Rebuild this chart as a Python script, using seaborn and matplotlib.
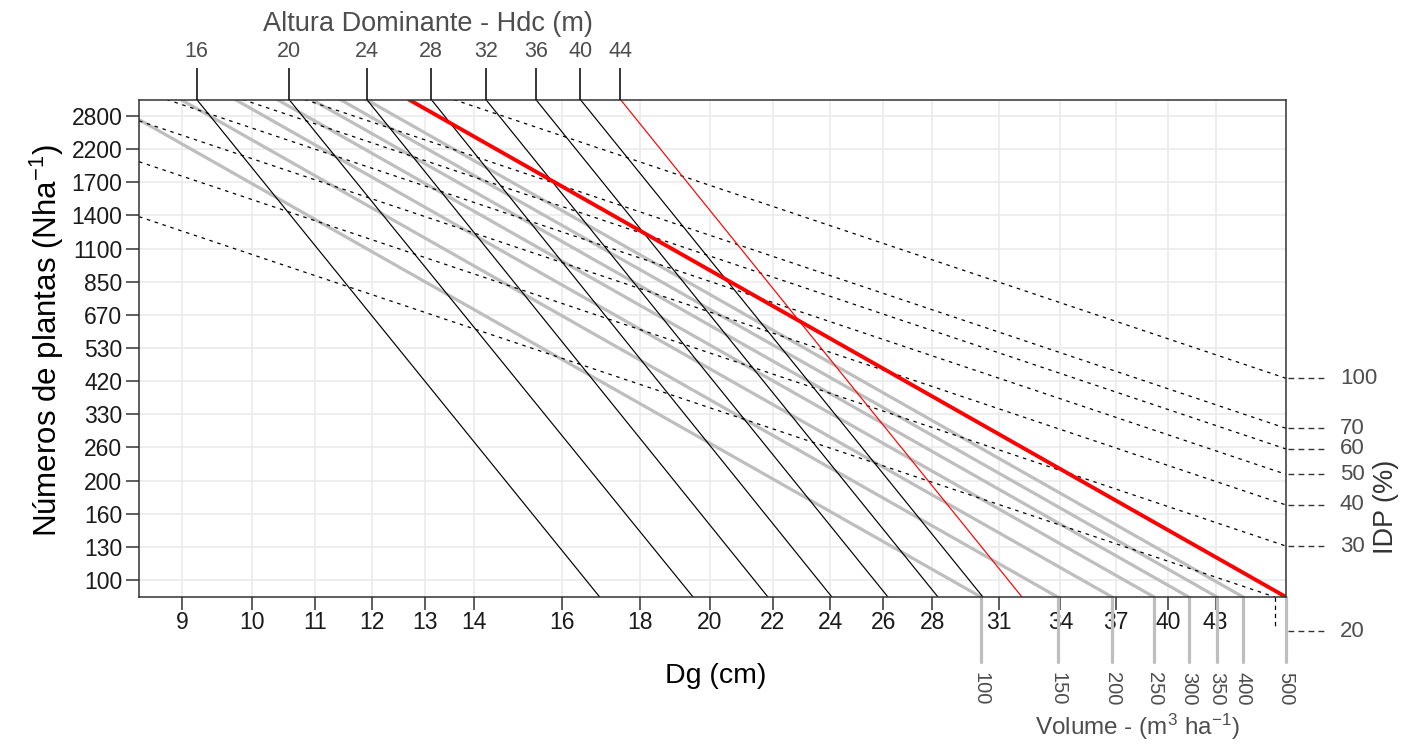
import numpy as np
import pandas as pd
import matplotlib
matplotlib.use("Agg")
import matplotlib.pyplot as plt
import matplotlib.transforms as mtransforms
from matplotlib.ticker import FixedLocator, FixedFormatter, NullLocator
import seaborn as sns

# ---------------- data ----------------
DG_MIN, DG_MAX = 8.43, 47.84          # Dg axis limits (cm)
N_MIN, N_MAX = 88.5, 3153             # N axis limits (plants/ha)

dg_ticks = [9, 10, 11, 12, 13, 14, 16, 18, 20, 22, 24, 26, 28, 31, 34, 37, 40, 43]
n_tick_labels = [100, 130, 160, 200, 260, 330, 420, 530, 670, 850, 1100, 1400, 1700, 2200, 2800]
n_tick_values = [100.0, 126.9, 161.0, 204.2, 259.1, 328.7, 417.1, 529.2, 671.3,
                 851.7, 1080.5, 1370.9, 1739.2, 2206.5, 2800.0]

# dominant height lines (Hdc, m): Dg where each line meets top / bottom of the panel
hdc_labels = [16, 20, 24, 28, 32, 36, 40, 44]
hdc_dg_top = [9.20, 10.58, 11.90, 13.12, 14.25, 15.37, 16.44, 17.47]
hdc_dg_bottom = [16.93, 19.50, 21.84, 24.06, 26.19, 28.25, 30.24, 32.08]

# volume lines (m3/ha)
vol_labels = [100, 150, 200, 250, 300, 350, 400, 500]
vol_dg_top = [7.99, 8.98, 9.75, 10.39, 10.95, 11.43, 11.89, 12.68]
vol_dg_bottom = [30.15, 33.86, 36.77, 39.18, 41.29, 43.10, 44.84, 47.84]

# relative density index lines (IDP, %)
idp_labels = [20, 30, 40, 50, 60, 70, 100]
idp_dg_start = [8.43, 8.43, 8.43, 8.79, 9.86, 10.83, 13.57]
idp_n_start = [1359, 2017, 2705, 3153, 3153, 3153, 3153]
idp_dg_end = [47.05, 47.84, 47.84, 47.84, 47.84, 47.84, 47.84]
idp_n_end = [88.5, 127.6, 171.4, 213.6, 256.2, 297.3, 425.7]
idp_label_n = [69.3, 127.6, 171.4, 213.6, 256.2, 297.3, 425.7]

# ---------------- styling ----------------
sns.set_theme(style="white")
plt.rcParams["font.family"] = ["Liberation Sans", "DejaVu Sans"]
plt.rcParams["mathtext.fontset"] = "custom"
plt.rcParams["mathtext.rm"] = "Liberation Sans"
plt.rcParams["mathtext.it"] = "Liberation Sans:italic"
plt.rcParams["mathtext.default"] = "regular"


def segments(prefix, labels, d0, n0, d1, n1):
    rows = []
    for lab, a, b, c, d in zip(labels, d0, n0, d1, n1):
        rows.append({"line": f"{prefix}{lab}", "Dg": a, "N": b})
        rows.append({"line": f"{prefix}{lab}", "Dg": c, "N": d})
    return pd.DataFrame(rows)


fig = plt.figure(figsize=(14.03, 7.44), dpi=100)
ax = fig.add_axes([139 / 1403, 1 - 597 / 744, 1147 / 1403, 497.5 / 744])

# volume lines (gray) except the 500 one, which is red and thick
vol_df = segments("v", vol_labels, vol_dg_top, [N_MAX] * len(vol_labels),
                  vol_dg_bottom, [N_MIN] * len(vol_labels))
sns.lineplot(data=vol_df[vol_df["line"] != "v500"], x="Dg", y="N", units="line",
             estimator=None, sort=False, color="#BEBEBE", lw=2.3, ax=ax,
             legend=False, zorder=3)

# IDP lines (dashed)
idp_df = segments("i", idp_labels, idp_dg_start, idp_n_start, idp_dg_end, idp_n_end)
sns.lineplot(data=idp_df, x="Dg", y="N", units="line", estimator=None, sort=False,
             color="black", lw=0.9, linestyle=(0, (2.8, 3.8)), ax=ax,
             legend=False, zorder=4)

# Hdc lines (black), 44 m in red
hdc_df = segments("h", hdc_labels, hdc_dg_top, [N_MAX] * len(hdc_labels),
                  hdc_dg_bottom, [N_MIN] * len(hdc_labels))
sns.lineplot(data=hdc_df[hdc_df["line"] != "h44"], x="Dg", y="N", units="line",
             estimator=None, sort=False, color="black", lw=0.85, ax=ax,
             legend=False, zorder=5)
sns.lineplot(data=hdc_df[hdc_df["line"] == "h44"], x="Dg", y="N", units="line",
             estimator=None, sort=False, color="#FF0000", lw=0.85, ax=ax,
             legend=False, zorder=6)
sns.lineplot(data=vol_df[vol_df["line"] == "v500"], x="Dg", y="N", units="line",
             estimator=None, sort=False, color="#FF0000", lw=2.8, ax=ax,
             legend=False, zorder=6)

# ---------------- axes ----------------
ax.set_xscale("log")
ax.set_yscale("log")
ax.set_xlim(DG_MIN, DG_MAX)
ax.set_ylim(N_MIN, N_MAX)
ax.xaxis.set_major_locator(FixedLocator(dg_ticks))
ax.xaxis.set_major_formatter(FixedFormatter([str(v) for v in dg_ticks]))
ax.yaxis.set_major_locator(FixedLocator(n_tick_values))
ax.yaxis.set_major_formatter(FixedFormatter([str(v) for v in n_tick_labels]))
ax.xaxis.set_minor_locator(NullLocator())
ax.yaxis.set_minor_locator(NullLocator())
ax.set_xlabel("")
ax.set_ylabel("")
ax.grid(True, which="major", color="#EBEBEB", lw=1.2)
ax.set_axisbelow(True)
ax.tick_params(axis="x", which="major", bottom=True, length=9.5, width=1.1,
               color="#333333", labelsize=16.5, labelcolor="#1a1a1a", pad=0.5)
ax.tick_params(axis="y", which="major", left=True, length=9.5, width=1.1,
               color="#333333", labelsize=16.5, labelcolor="#1a1a1a", pad=2.5)
for s in ax.spines.values():
    s.set_color("#333333")
    s.set_linewidth(1.1)
    s.set_zorder(10)

# top axis: dominant height
ax_top = ax.twiny()
ax_top.set_xscale("log")
ax_top.set_xlim(ax.get_xlim())
ax_top.xaxis.set_major_locator(FixedLocator(hdc_dg_top))
ax_top.xaxis.set_major_formatter(FixedFormatter([str(v) for v in hdc_labels]))
ax_top.xaxis.set_minor_locator(NullLocator())
ax_top.tick_params(axis="x", which="major", top=True, length=23, width=1.1,
                   color="black", labelsize=15.5, labelcolor="#4D4D4D", pad=4)
for s in ax_top.spines.values():
    s.set_visible(False)
ax_top.grid(False)

# bottom volume ticks
bx = mtransforms.blended_transform_factory(ax.transData, ax.transAxes)
for d, lab in zip(vol_dg_bottom, vol_labels):
    ax.plot([d, d], [0, -0.131], transform=bx, color="#BEBEBE", lw=2.3,
            clip_on=False, zorder=2)
    ax.text(d, -0.151, str(lab), transform=bx, rotation=-90, ha="center",
            va="top", fontsize=14.5, color="#4D4D4D")

# IDP 20 leader below the panel
ax.plot([idp_dg_end[0], idp_dg_end[0]], [0, -0.062], transform=bx, color="black",
        lw=0.9, linestyle=(0, (3.5, 3)), clip_on=False)

# right IDP ticks
rx = mtransforms.blended_transform_factory(ax.transAxes, ax.transData)
for n, lab in zip(idp_label_n, idp_labels):
    ax.plot([1.002, 1.0366], [n, n], transform=rx, color="#333333", lw=1.0,
            linestyle=(0, (4.2, 3.0)), clip_on=False)
    ax.text(1.047, n, str(lab), transform=rx, ha="left", va="center",
            fontsize=16, color="#4D4D4D")

# titles
fig.text(427.5 / 1403, 1 - 24 / 744, "Altura Dominante - Hdc (m)", ha="center",
         va="center", fontsize=19.5, color="#4D4D4D")
fig.text(716 / 1403, 1 - 683 / 744, "Dg (cm)", ha="center", va="baseline",
         fontsize=20.5, color="black")
fig.text(1137 / 1403, 1 - 735 / 744, "Volume - (m$^{3}$ ha$^{-1}$)", ha="center",
         va="baseline", fontsize=17.5, color="#4D4D4D")
fig.text(47 / 1403, 1 - 341 / 744, "Números de plantas (Nha$^{-1}$)", rotation=90,
         ha="center", va="center", fontsize=22.5, color="black")
fig.text(1386 / 1403, 1 - 507 / 744, "IDP (%)", rotation=90, ha="center",
         va="center", fontsize=19.5, color="#333333")

fig.savefig("out.png", dpi=100)
